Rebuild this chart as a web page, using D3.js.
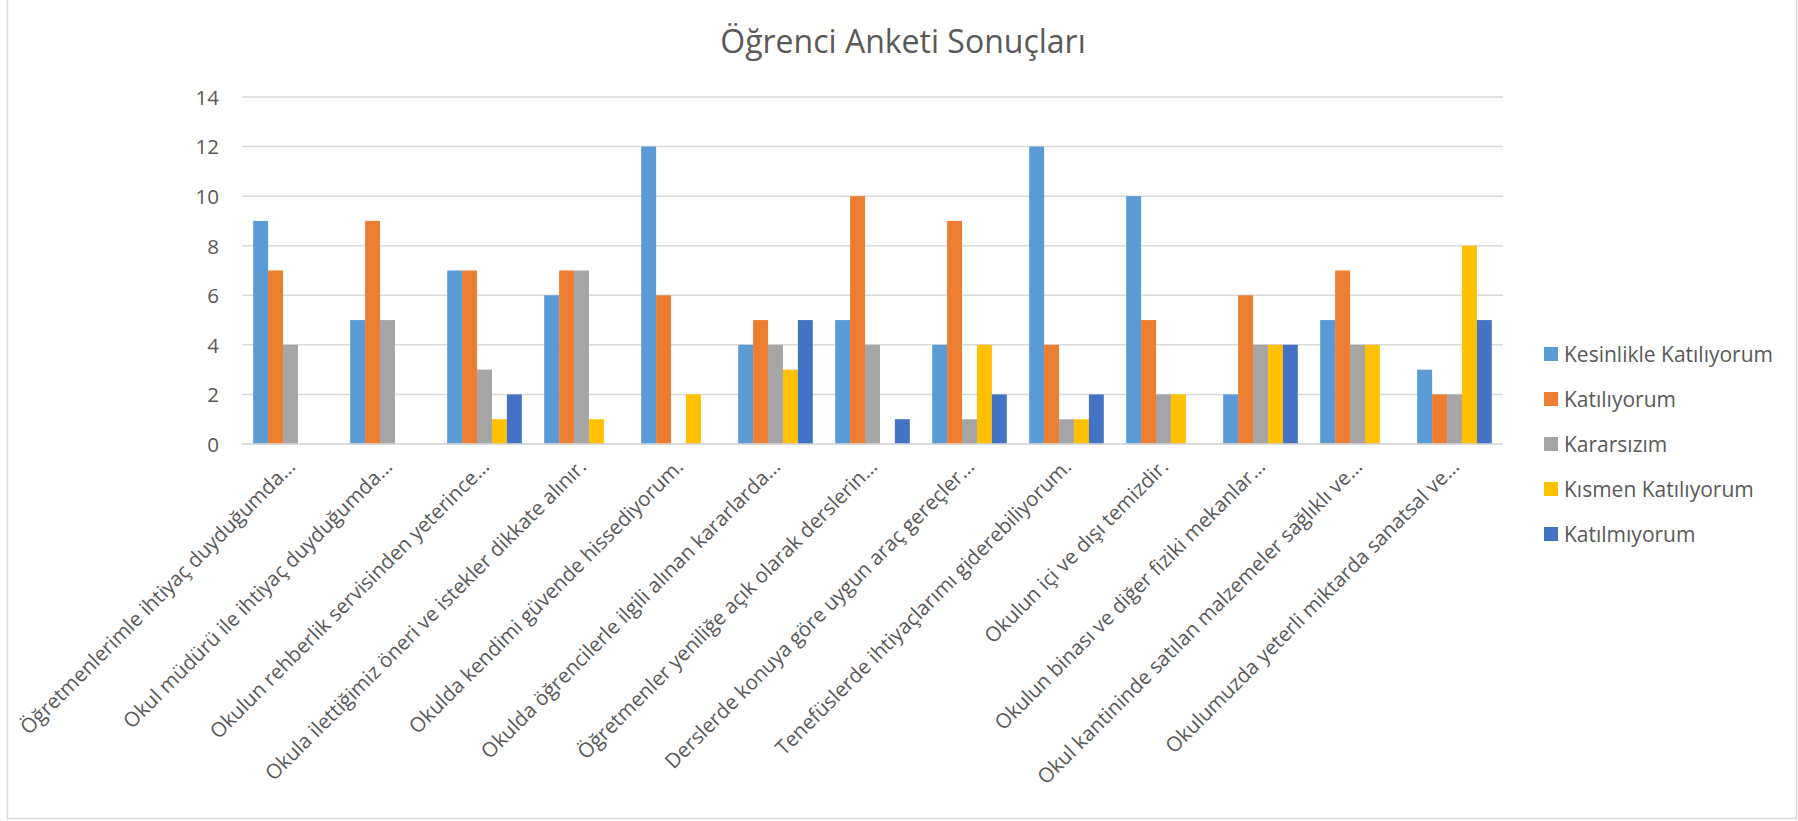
<!DOCTYPE html>
<html>
<head>
<meta charset="utf-8">
<script src="https://cdn.jsdelivr.net/npm/d3@7"></script>
<style>
html,body{margin:0;padding:0;background:#fff;}
svg{display:block;}
text{font-family:"Open Sans",sans-serif;fill:#595959;}
</style>
</head>
<body>
<svg id="chart" width="1798" height="821"></svg>
<script>
const title = "Öğrenci Anketi Sonuçları";
const categories = [
  "Öğretmenlerimle ihtiyaç duyduğumda…",
  "Okul müdürü ile ihtiyaç duyduğumda…",
  "Okulun rehberlik servisinden yeterince…",
  "Okula ilettiğimiz öneri ve istekler dikkate alınır.",
  "Okulda kendimi güvende hissediyorum.",
  "Okulda öğrencilerle ilgili alınan kararlarda…",
  "Öğretmenler yeniliğe açık olarak derslerin…",
  "Derslerde konuya göre uygun araç gereçler…",
  "Tenefüslerde ihtiyaçlarımı giderebiliyorum.",
  "Okulun içi ve dışı temizdir.",
  "Okulun binası ve diğer fiziki mekanlar…",
  "Okul kantininde satılan malzemeler sağlıklı ve…",
  "Okulumuzda yeterli miktarda sanatsal ve…"
];
const seriesNames = ["Kesinlikle Katılıyorum","Katılıyorum","Kararsızım","Kısmen Katılıyorum","Katılmıyorum"];
const seriesColors = ["#5B9BD5","#ED7D31","#A5A5A5","#FFC000","#4472C4"];
const kesinlikle = [9,5,7,6,12,4,5,4,12,10,2,5,3];
const katiliyorum = [7,9,7,7,6,5,10,9,4,5,6,7,2];
const kararsizim = [4,5,3,7,0,4,4,1,1,2,4,4,2];
const kismen = [0,0,1,1,2,3,0,4,1,2,4,4,8];
const katilmiyorum = [0,0,2,0,0,5,1,2,2,0,4,0,5];
const yTicks = [0,2,4,6,8,10,12,14];

const seriesValues = [kesinlikle, katiliyorum, kararsizim, kismen, katilmiyorum];

const svg = d3.select("#chart");
const plot = {left:242, right:1503, top:97, bottom:444};

// outer border
svg.append("rect").attr("x",7.5).attr("y",-2).attr("width",1789).attr("height",820.5)
  .attr("fill","none").attr("stroke","#D9D9D9").attr("stroke-width",1.5);

svg.append("text").attr("x",903).attr("y",53).attr("text-anchor","middle")
  .style("font-size","32px").text(title);

const y = d3.scaleLinear().domain([0,14]).range([plot.bottom, plot.top]);
const x0 = d3.scaleBand().domain(d3.range(categories.length)).range([plot.left, plot.right]).paddingInner(0).paddingOuter(0);
const x1 = d3.scaleBand().domain(d3.range(seriesNames.length)).range([0, x0.bandwidth()]).paddingInner(0).paddingOuter(0.75);

// gridlines
svg.append("g").selectAll("line").data(yTicks).join("line")
  .attr("x1",plot.left).attr("x2",plot.right)
  .attr("y1",d=>y(d)).attr("y2",d=>y(d))
  .attr("stroke","#D9D9D9").attr("stroke-width",1.5);

// y axis labels
const yAxis = d3.axisLeft(y).tickValues(yTicks).tickSize(0).tickPadding(0);
const yg = svg.append("g").attr("transform",`translate(219,0)`).call(yAxis);
yg.select(".domain").remove();
yg.selectAll("text").style("font-size","20.5px").style("font-family","'Open Sans',sans-serif").attr("fill","#595959").attr("dy","0.36em");

// bars
const groups = svg.append("g").selectAll("g").data(categories.map((c,i)=>i)).join("g")
  .attr("transform",i=>`translate(${x0(i)},0)`);
groups.selectAll("rect").data(i=>seriesValues.map((s,k)=>({k, v:s[i]}))).join("rect")
  .attr("x",d=>x1(d.k)).attr("width",x1.bandwidth())
  .attr("y",d=>y(d.v)).attr("height",d=>y(0)-y(d.v))
  .attr("fill",d=>seriesColors[d.k]);

// x axis line
svg.append("line").attr("x1",plot.left).attr("x2",plot.right).attr("y1",y(0)).attr("y2",y(0))
  .attr("stroke","#D9D9D9").attr("stroke-width",1.5);

// x labels
const xAxis = d3.axisBottom(x0).tickSize(0).tickFormat(i=>categories[i]);
const xg = svg.append("g").attr("transform",`translate(0,${plot.bottom})`).call(xAxis);
xg.select(".domain").remove();
xg.selectAll(".tick text")
  .attr("y",0).attr("dy",0)
  .attr("text-anchor","end")
  .attr("transform","translate(6,24) rotate(-45)")
  .style("font-size","20.5px")
  .style("font-family","'Open Sans',sans-serif").attr("fill","#595959");

// legend
const lg = svg.append("g").selectAll("g").data(seriesNames).join("g")
  .attr("transform",(d,i)=>`translate(1544,${354+i*45})`);
lg.append("rect").attr("x",0).attr("y",-7).attr("width",14).attr("height",14).attr("fill",(d,i)=>seriesColors[i]);
lg.append("text").attr("x",20).attr("y",0).attr("dy","0.36em").style("font-size","21px").text(d=>d);
</script>
</body>
</html>
